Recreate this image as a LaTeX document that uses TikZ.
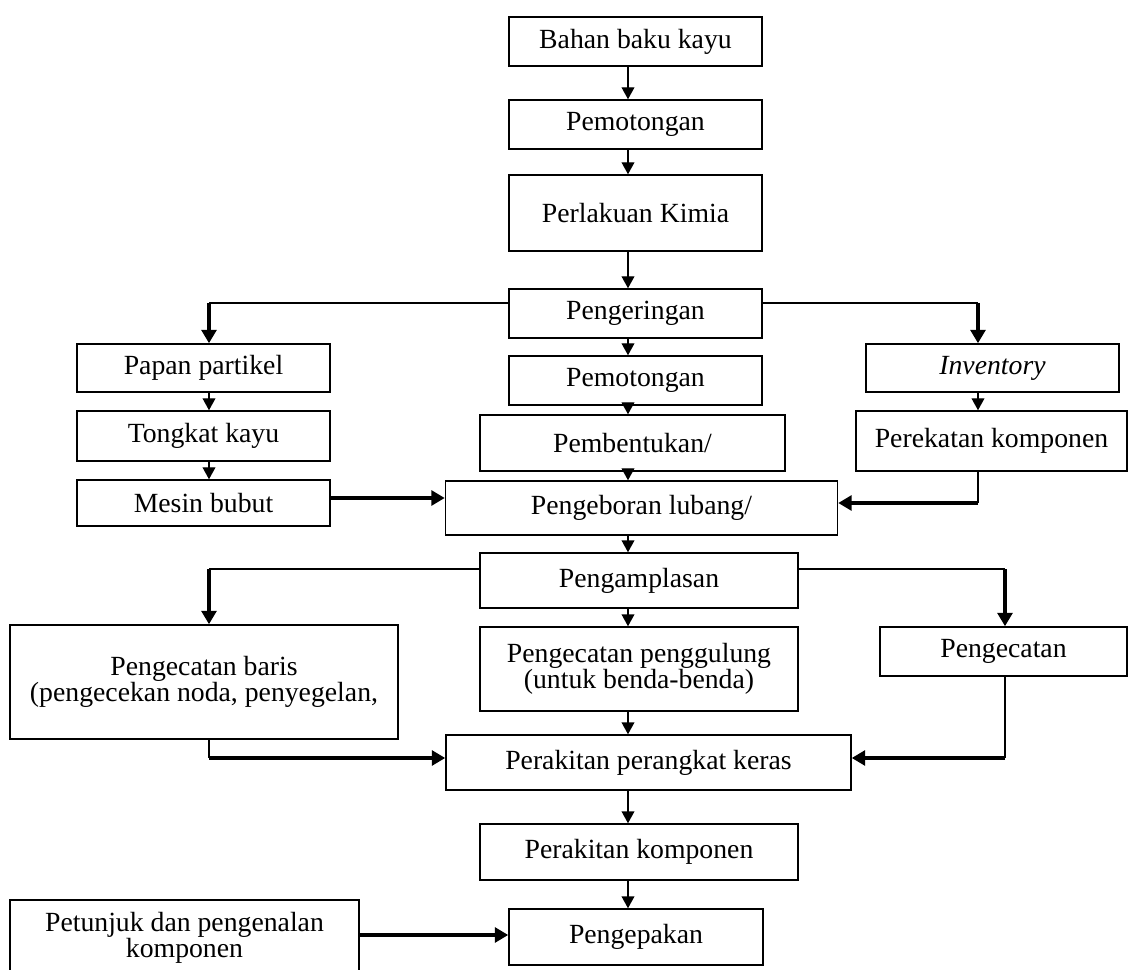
\documentclass[tikz,border=0pt]{standalone}
\usepackage{fontspec}
\setmainfont{Liberation Serif}
\usetikzlibrary{arrows.meta,calc,positioning}

\begin{document}
\begin{tikzpicture}[x=0.375pt,y=-0.375pt,
  box/.style={draw,line width=0.55pt,align=center,inner sep=1pt,
    font={\fontsize{10.4}{9.6}\selectfont}},
  sz/.style 2 args={minimum width=#1*0.375pt,minimum height=#2*0.375pt},
  flow/.style={-{Triangle[width=4.8pt,length=4.5pt]},line width=0.55pt},
  feed/.style={-{Triangle[width=5.5pt,length=5pt]},line width=1.4pt},
  link/.style={line width=0.55pt}]
  \useasboundingbox (0,0) rectangle (1130,970);
  % main column
  \node[box,sz={253}{49}] (bahan) at (635.5,41.5) {Bahan baku kayu};
  \node[box,sz={253}{49}] (potongA) at (635.5,124.5) {Pemotongan};
  \node[box,sz={253}{76}] (kimia) at (635.5,213) {Perlakuan Kimia};
  \node[box,sz={253}{49}] (kering) at (635.5,313.5) {Pengeringan};
  \node[box,sz={253}{49}] (potongB) at (635.5,380.5) {Pemotongan};
  \node[box,sz={305}{56}] (bentuk) at (632.5,443) {Pembentukan/};
  \node[box,sz={392}{54}] (bor) at (641.5,508) {Pengeboran lubang/};
  \node[box,sz={318}{55}] (amplas) at (639,580.5) {Pengamplasan};
  \node[box,sz={318}{84}] (gulung) at (639,669) {Pengecatan penggulung\\(untuk benda-benda)};
  \node[box,sz={405}{55}] (keras) at (648.5,762.5) {Perakitan perangkat keras};
  \node[box,sz={318}{56}] (rakit) at (639,852) {Perakitan komponen};
  \node[box,sz={254}{56}] (kemas) at (636,937) {Pengepakan};
  % side boxes
  \node[box,sz={253}{48}] (papan) at (203.5,368) {Papan partikel};
  \node[box,sz={253}{50}] (tongkat) at (203.5,436) {Tongkat kayu};
  \node[box,sz={253}{46}] (mesin) at (203.5,503) {Mesin bubut};
  \node[box,sz={253}{48}] (inventory) at (992.5,368) {\textit{Inventory}};
  \node[box,sz={271}{60}] (rekat) at (991.5,441) {Perekatan komponen};
  \node[box,sz={388}{114}] (baris) at (204,682) {Pengecatan baris\\(pengecekan noda, penyegelan,};
  \node[box,sz={247}{49}] (cat) at (1003.5,651.5) {Pengecatan};
  \node[box,sz={349}{76}] (petunjuk) at (184.5,938) {Petunjuk dan pengenalan\\komponen};

  \coordinate (spine) at (628,0);
  \coordinate (lsplit) at (209,303);
  \coordinate (rsplit) at (978,303);
  \coordinate (rjoin) at (978,503);
  \coordinate (lsplitB) at (209,569);
  \coordinate (rsplitB) at (1005,569);
  \coordinate (ljoinB) at (209,758);
  \coordinate (rjoinB) at (1005,758);

  \foreach \a/\b in {bahan/potongA,potongA/kimia,kimia/kering,kering/potongB,potongB/bentuk,
      bentuk/bor,bor/amplas,amplas/gulung,gulung/keras,keras/rakit,rakit/kemas}
    \draw[flow] (\a.south -| spine) -- (\b.north -| spine);
  \foreach \a/\b in {papan/tongkat,tongkat/mesin}
    \draw[flow] (\a.south -| lsplit) -- (\b.north -| lsplit);
  \draw[flow] (inventory.south -| rsplit) -- (rekat.north -| rsplit);

  % branches after Pengeringan
  \draw[link] ($(kering.west)+(0,-10.5)$) -- (lsplit);
  \draw[feed] (lsplit) -- (lsplit |- papan.north);
  \draw[link] ($(kering.east)+(0,-10.5)$) -- (rsplit);
  \draw[feed] (rsplit) -- (rsplit |- inventory.north);
  \draw[feed] ($(mesin.east)+(0,-5)$) coordinate (ljoin) -- (ljoin -| bor.west);
  \draw[link] (rekat.south -| rjoin) -- (rjoin);
  \draw[feed] (rjoin) -- (rjoin -| bor.east);

  % branches after Pengamplasan
  \draw[link] ($(amplas.west)+(0,-11.5)$) -- (lsplitB);
  \draw[feed] (lsplitB) -- (lsplitB |- baris.north);
  \draw[link] ($(amplas.east)+(0,-11.5)$) -- (rsplitB);
  \draw[feed] (rsplitB) -- (rsplitB |- cat.north);
  \draw[link] (baris.south -| ljoinB) -- (ljoinB);
  \draw[feed] (ljoinB) -- (ljoinB -| keras.west);
  \draw[link] (cat.south -| rjoinB) -- (rjoinB);
  \draw[feed] (rjoinB) -- (rjoinB -| keras.east);

  \draw[feed] ($(petunjuk.east)+(0,-3)$) coordinate (pjoin) -- (pjoin -| kemas.west);
\end{tikzpicture}
\end{document}
